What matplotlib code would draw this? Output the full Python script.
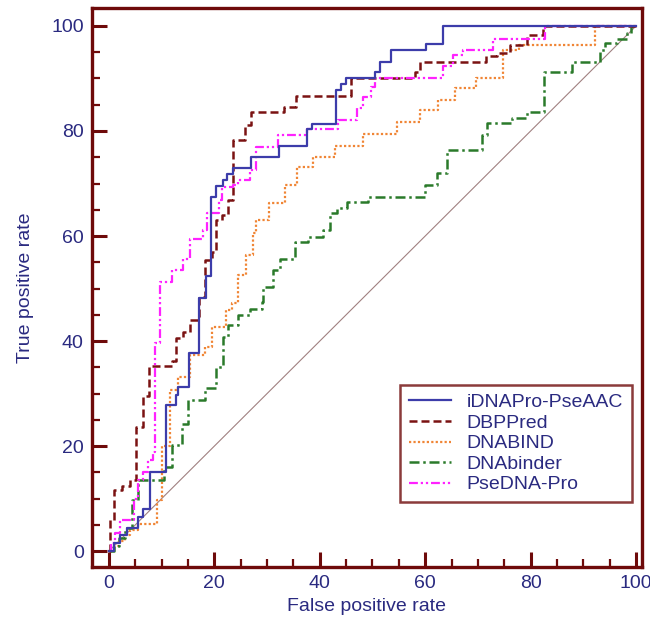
import matplotlib
matplotlib.use('Agg')
import matplotlib.pyplot as plt
from matplotlib.ticker import MultipleLocator

plt.rcParams['font.family'] = ['Liberation Sans', 'DejaVu Sans']

# ROC step points: at each fpr value the curve jumps up to the tpr value
labels = ['iDNAPro-PseAAC', 'DBPPred', 'DNABIND', 'DNAbinder', 'PseDNA-Pro']

fpr_idna = [0, 1, 2.2, 3.5, 5.5, 6.5, 7.8, 10.8, 12.7, 13.1, 15.2, 17.1, 18.5, 19.4,
            20.3, 21.6, 22.5, 23.6, 26.9, 32.3, 37.5, 38.6, 43.0, 44.0, 45.0, 50.5,
            51.4, 53.6, 60.2, 63.4, 100]
tpr_idna = [0, 1.5, 3, 4.5, 6.5, 8, 15, 27.8, 29.7, 31.2, 37.7, 48.2, 52.4, 67.4,
            69.5, 70.7, 71.8, 73.0, 75.0, 77.1, 80.4, 81.3, 87.8, 89.0, 90.0, 91.3,
            93.2, 95.4, 96.5, 100, 100]

fpr_dbp = [0, 0.3, 0.9, 2.5, 4.0, 5.2, 6.5, 7.6, 11.9, 12.8, 14.1, 15.4, 17.1, 18.2,
           19.5, 20.4, 21.4, 22.6, 23.6, 25.8, 26.9, 33.3, 35.5, 46.0, 58.1, 59.0,
           71.5, 73.6, 76.1, 79.3, 82.4, 100]
tpr_dbp = [0, 6, 11.6, 12.5, 13.5, 23.7, 29.5, 35.2, 36.2, 40.5, 41.8, 44.0, 48.4, 55.4,
           57.0, 63.0, 64.0, 66.9, 78.3, 81.1, 83.7, 84.5, 86.7, 90.0, 91.3, 93.2,
           94.2, 94.8, 96.4, 98.3, 100, 100]

fpr_bind = [0, 1, 2, 3, 4, 5.5, 9.1, 10.0, 11.6, 13.1, 15.4, 18.2, 19.5, 22.3, 23.3,
            24.5, 26.1, 27.4, 28.0, 30.4, 33.4, 35.6, 38.8, 42.9, 48.3, 54.6, 59.0,
            62.5, 65.7, 69.6, 74.8, 77.7, 92.2, 100]
tpr_bind = [0, 1, 2, 3, 4, 5.2, 9.7, 20.0, 30.7, 33.1, 37.3, 38.9, 42.7, 45.9, 47.2,
            52.5, 56.4, 60.5, 63.0, 66.3, 69.7, 73.2, 75.1, 77.1, 79.4, 81.8, 84.0,
            85.9, 88.1, 90.0, 95.4, 96.4, 100, 100]

fpr_binder = [0, 1, 2, 3, 4.3, 5.5, 10.4, 11.9, 13.8, 15.0, 18.2, 20.4, 21.7, 22.6,
              24.5, 26.8, 29.0, 29.3, 31.2, 32.4, 35.3, 37.8, 40.7, 41.9, 43.2, 45.1,
              49.2, 60.0, 62.2, 64.1, 70.7, 71.7, 76.4, 79.3, 82.5, 87.8, 93.2, 94.1,
              96.3, 98.2, 99.0, 100]
tpr_binder = [0, 1, 2.5, 4.5, 9.7, 13.5, 16.0, 20.2, 24.3, 28.8, 31.0, 35.1, 40.8, 43.0,
              45.0, 46.2, 47.5, 50.3, 53.5, 55.7, 58.9, 59.9, 61.1, 64.3, 65.3, 66.5,
              67.5, 69.7, 72.0, 76.3, 79.2, 81.5, 82.5, 83.7, 91.3, 93.2, 95.4, 96.7,
              97.5, 98.6, 100, 100]

fpr_pse = [0, 0.5, 1.2, 2.2, 4.8, 5.6, 6.5, 7.5, 8.4, 8.7, 9.7, 11.9, 14.1, 15.4, 17.9,
           18.7, 20.8, 21.4, 23.6, 24.5, 26.8, 28.0, 32.1, 37.5, 43.5, 47.0, 48.3,
           49.8, 50.5, 63.4, 65.3, 67.2, 72.9, 82.7, 100]
tpr_pse = [0, 1.5, 3.5, 6.0, 10.0, 13.5, 15.0, 17.3, 18.9, 39.6, 51.3, 53.5, 55.6, 59.5,
           61.1, 64.3, 66.9, 69.4, 69.7, 70.7, 72.6, 77.0, 79.2, 80.4, 82.1, 84.3, 86.5,
           88.4, 90.0, 92.3, 94.5, 95.4, 97.6, 100, 100]

maroon = '#6e0a0a'
navy = '#2a2a80'

fig = plt.figure(figsize=(6.5, 6.21), dpi=100)
ax = fig.add_axes([0.1415, 0.087, 0.846, 0.9])

ax.plot([0, 100], [0, 100], color='#a08080', lw=0.8, zorder=1)

ax.plot(fpr_idna, tpr_idna, drawstyle='steps-post', color='#3c3caa', lw=1.6,
        label=labels[0], zorder=5)
ax.plot(fpr_dbp, tpr_dbp, drawstyle='steps-post', color='#7a1212', lw=1.8,
        ls=(0, (3.2, 1.6)), label=labels[1], zorder=4)
ax.plot(fpr_bind, tpr_bind, drawstyle='steps-post', color='#f08535', lw=1.6,
        ls=(0, (1, 1)), label=labels[2], zorder=3)
ax.plot(fpr_binder, tpr_binder, drawstyle='steps-post', color='#2a7a2a', lw=1.8,
        ls=(0, (4, 1.5, 1, 1.5)), label=labels[3], zorder=3)
ax.plot(fpr_pse, tpr_pse, drawstyle='steps-post', color='#ff22ff', lw=1.6,
        ls=(0, (4, 1.3, 1, 1.3, 1, 1.3)), label=labels[4], zorder=4)

ax.set_xlim(-3.2, 101.1)
ax.set_ylim(-3.0, 103.4)

for s in ['top', 'right', 'left', 'bottom']:
    ax.spines[s].set_color(maroon)
    ax.spines[s].set_linewidth(2.4)

ax.xaxis.set_major_locator(MultipleLocator(20))
ax.yaxis.set_major_locator(MultipleLocator(20))
ax.xaxis.set_minor_locator(MultipleLocator(5))
ax.yaxis.set_minor_locator(MultipleLocator(5))
ax.tick_params(which='major', direction='in', length=11, width=2.2, color=maroon,
               labelsize=14, labelcolor=navy, pad=6)
ax.tick_params(which='minor', direction='in', length=6, width=1.6, color=maroon)
ax.tick_params(top=False, right=False, which='both')

ax.set_xlabel('False positive rate', color=navy, fontsize=14, labelpad=4)
ax.set_ylabel('True positive rate', color=navy, fontsize=14, labelpad=12)

leg = ax.legend(loc='lower right', bbox_to_anchor=(0.982, 0.116), borderaxespad=0,
                fontsize=14, frameon=True, fancybox=False, handlelength=2.2,
                labelspacing=0.15, borderpad=0.45, handletextpad=0.8)
leg.get_frame().set_edgecolor(maroon)
leg.get_frame().set_linewidth(1.8)
for t in leg.get_texts():
    t.set_color(navy)

plt.savefig('out.png', dpi=100)
